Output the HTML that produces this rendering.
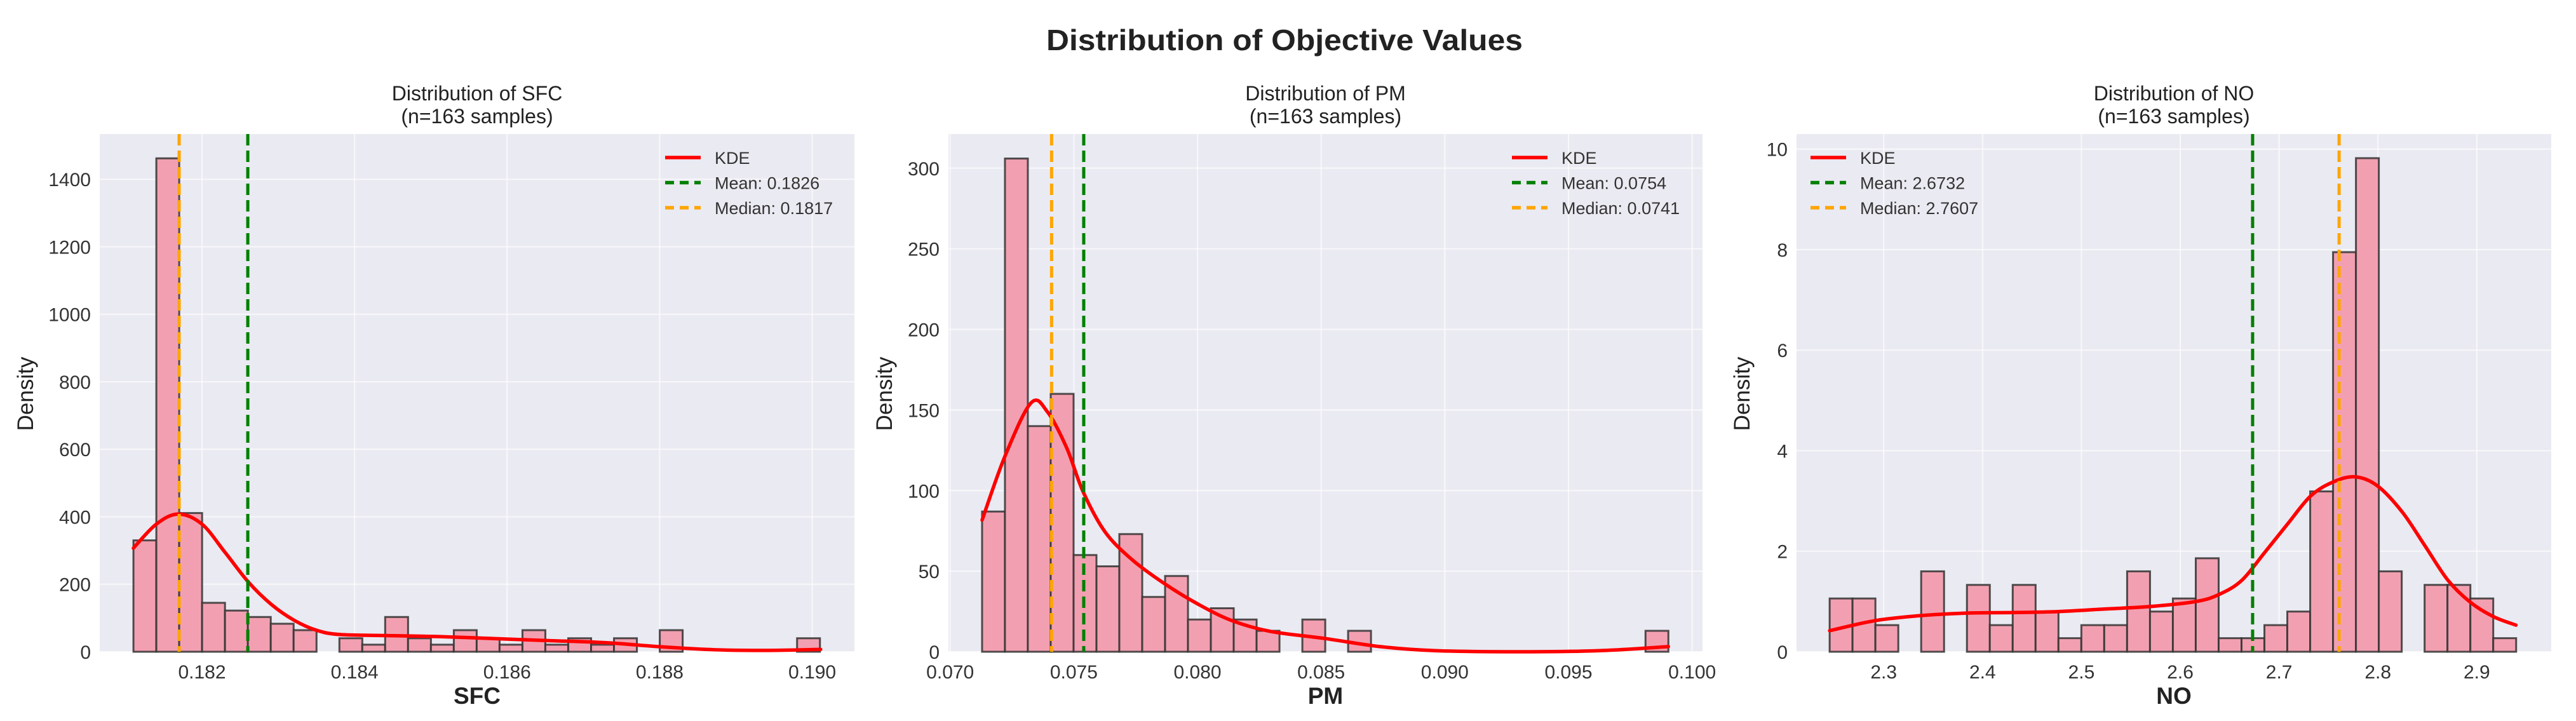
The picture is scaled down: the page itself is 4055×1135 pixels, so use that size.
<!DOCTYPE html>
<html><head><meta charset="utf-8"><style>
html,body{margin:0;padding:0;background:#fff;}
svg{display:block;font-family:"Liberation Sans",Arial,sans-serif;}
</style></head><body>
<svg id="chart" width="4055" height="1135" viewBox="0 0 4055 1135" xmlns="http://www.w3.org/2000/svg">
<text x="2022" y="79" text-anchor="middle" font-size="46" font-weight="bold" fill="#222" textLength="750" lengthAdjust="spacingAndGlyphs">Distribution of Objective Values</text>
</svg>
<script>
// ---- SFC panel data ----
const sfcBinStart = 0.181101;
const sfcBinWidth = 0.0003;
const sfcDensity = [330,1462,411,145,122,103,83,64,0,40,21,103,40,21,64,40,21,64,21,40,21,40,0,64,0,0,0,0,0,40];
const sfcKdeX = [0.18110,0.18140,0.18169,0.18200,0.18230,0.18261,0.18291,0.18321,0.18351,0.18381,0.18439,0.18511,0.18583,0.18655,0.18728,0.18800,0.18872,0.18944,0.19011];
const sfcKdeY = [307,378,408,378,295,206,140,93,63,51,48,45,39,33,27,15,6,4,7];
const sfcXTicks = [0.182,0.184,0.186,0.188,0.190];
const sfcXTickLabels = ["0.182","0.184","0.186","0.188","0.190"];
const sfcYTicks = [0,200,400,600,800,1000,1200,1400];
const sfcMean = 0.1826, sfcMedian = 0.1817;
// ---- PM panel data ----
const pmBinStart = 0.07129;
const pmBinWidth = 0.000925;
const pmDensity = [87,306,140,160,60,53,73,34,47,20,27,20,13,0,20,0,13,0,0,0,0,0,0,0,0,0,0,0,0,13];
const pmKdeX = [0.07129,0.07222,0.07327,0.07393,0.07471,0.07538,0.07627,0.07738,0.07871,0.08004,0.08138,0.08293,0.08516,0.08738,0.0896,0.09293,0.09627,0.09904];
const pmKdeY = [81.7,121.5,154.4,148.9,126.5,99.1,74.2,56.8,41.8,29.4,19.4,12.7,8.2,3.2,0.7,0,0.7,3.2];
const pmXTicks = [0.070,0.075,0.080,0.085,0.090,0.095,0.100];
const pmXTickLabels = ["0.070","0.075","0.080","0.085","0.090","0.095","0.100"];
const pmYTicks = [0,50,100,150,200,250,300];
const pmMean = 0.0754, pmMedian = 0.0741;
// ---- NO panel data ----
const noBinStart = 2.2453;
const noBinWidth = 0.02315;
const noDensity = [1.06,1.06,0.53,0,1.6,0,1.33,0.53,1.33,0.8,0.27,0.53,0.53,1.6,0.8,1.06,1.86,0.27,0.27,0.53,0.8,3.19,7.95,9.82,1.6,0,1.33,1.33,1.06,0.27];
const noKdeX = [2.2453,2.2916,2.3380,2.3843,2.4306,2.4769,2.5233,2.5696,2.6159,2.6393,2.6622,2.6856,2.7085,2.7320,2.7549,2.7772,2.7995,2.8246,2.8475,2.8709,2.8938,2.9167,2.9396];
const noKdeY = [0.42,0.62,0.72,0.77,0.78,0.80,0.85,0.90,1.00,1.14,1.42,1.98,2.54,3.10,3.38,3.48,3.30,2.78,2.11,1.42,0.98,0.70,0.53];
const noXTicks = [2.3,2.4,2.5,2.6,2.7,2.8,2.9];
const noXTickLabels = ["2.3","2.4","2.5","2.6","2.7","2.8","2.9"];
const noYTicks = [0,2,4,6,8,10];
const noMean = 2.6732, noMedian = 2.7607;

const NS = "http://www.w3.org/2000/svg";
const svg = document.getElementById("chart");
function mk(tag, attrs, parent){
  const e = document.createElementNS(NS, tag);
  for (const k in attrs) e.setAttribute(k, attrs[k]);
  (parent||svg).appendChild(e);
  return e;
}
function smoothPath(pts){
  let d = "M" + pts[0][0] + "," + pts[0][1];
  for (let i=0;i<pts.length-1;i++){
    const p0=pts[Math.max(0,i-1)], p1=pts[i], p2=pts[i+1], p3=pts[Math.min(pts.length-1,i+2)];
    const c1x=p1[0]+(p2[0]-p0[0])/6, c1y=p1[1]+(p2[1]-p0[1])/6;
    const c2x=p2[0]-(p3[0]-p1[0])/6, c2y=p2[1]-(p3[1]-p1[1])/6;
    d += " C"+c1x+","+c1y+" "+c2x+","+c2y+" "+p2[0]+","+p2[1];
  }
  return d;
}
function panel(cfg){
  const g = mk("g", {});
  
  
  const L=cfg.left, R=cfg.right, T=211, B=1026;
  const xs = v => L + (v-cfg.xmin)/(cfg.xmax-cfg.xmin)*(R-L);
  const ys = v => B - v/cfg.ymax*(B-T);
  const bg = mk("rect", {x:L,y:T,width:R-L,height:B-T,fill:"#eaeaf2"}, g);
  
  
  cfg.xticks.forEach((t,i)=>{
    const gl = mk("line",{x1:xs(t),x2:xs(t),y1:T,y2:B,stroke:"#fff","stroke-width":2,opacity:0.7},g);
    
    
    const tl = mk("text",{x:xs(t),y:B+42,"text-anchor":"middle","font-size":30,fill:"#333"},g);
    tl.textContent = cfg.xlabels[i];
    
    
  });
  cfg.yticks.forEach(t=>{
    const gl = mk("line",{x1:L,x2:R,y1:ys(t),y2:ys(t),stroke:"#fff","stroke-width":2,opacity:0.7},g);
    
    
    const tl = mk("text",{x:L-14,y:ys(t)+11,"text-anchor":"end","font-size":30,fill:"#333"},g);
    tl.textContent = String(t);
    
    
  });
  cfg.density.forEach((v,i)=>{
    if (v<=0) return;
    const x0 = xs(cfg.binStart + i*cfg.binWidth), x1 = xs(cfg.binStart + (i+1)*cfg.binWidth);
    const r = mk("rect",{x:x0,y:ys(v),width:x1-x0,height:B-ys(v),fill:"#f2a0b1",stroke:"#333","stroke-width":3,"stroke-opacity":0.85},g);
    
    
  });
  const pts = cfg.kdeX.map((x,i)=>[xs(x), ys(cfg.kdeY[i])]);
  const kde = mk("path",{d:smoothPath(pts),fill:"none",stroke:"#ff0000","stroke-width":5.5,"stroke-linecap":"round"},g);
  
  
  const mean = mk("line",{x1:xs(cfg.mean),x2:xs(cfg.mean),y1:T,y2:B,stroke:"#008000","stroke-width":5,"stroke-dasharray":"18,8"},g);
  
  
  const med = mk("line",{x1:xs(cfg.median),x2:xs(cfg.median),y1:T,y2:B,stroke:"#ffa500","stroke-width":5,"stroke-dasharray":"18,8"},g);
  
  
  const cx=(L+R)/2;
  const t1 = mk("text",{x:cx,y:158,"text-anchor":"middle","font-size":32,fill:"#222"},g);
  t1.textContent = "Distribution of " + cfg.name;
  
  
  const t2 = mk("text",{x:cx,y:194,"text-anchor":"middle","font-size":32,fill:"#222"},g);
  t2.textContent = "(n=163 samples)";
  
  
  const xl = mk("text",{x:cx,y:1108,"text-anchor":"middle","font-size":37,"font-weight":"bold",fill:"#222"},g);
  xl.textContent = cfg.name;
  
  
  const yl = mk("text",{x:0,y:0,"text-anchor":"middle","font-size":35,fill:"#222",transform:"translate("+(cfg.ylabX)+",620) rotate(-90)"},g);
  yl.textContent = "Density";
  
  
  const lg = mk("g",{},g);
  
  
  const items = [["KDE","#ff0000",null],["Mean: "+cfg.meanLabel,"#008000","14,9"],["Median: "+cfg.medianLabel,"#ffa500","14,9"]];
  items.forEach((it,i)=>{
    const y = 248 + i*39.5;
    const ln = mk("line",{x1:cfg.legX,x2:cfg.legX+56,y1:y,y2:y,stroke:it[1],"stroke-width":5.5},lg);
    if (it[2]) ln.setAttribute("stroke-dasharray", it[2]);
    
    
    const tx = mk("text",{x:cfg.legX+78,y:y+10,"font-size":27,fill:"#333"},lg);
    tx.textContent = it[0];
    
    
  });
}
panel({name:"SFC",left:157,right:1345,xmin:0.180659,xmax:0.190553,ymax:1534,binStart:sfcBinStart,binWidth:sfcBinWidth,density:sfcDensity,kdeX:sfcKdeX,kdeY:sfcKdeY,xticks:sfcXTicks,xlabels:sfcXTickLabels,yticks:sfcYTicks,mean:sfcMean,median:sfcMedian,meanLabel:"0.1826",medianLabel:"0.1817",ylabX:52,legX:1047});
panel({name:"PM",left:1493,right:2680,xmin:0.06993,xmax:0.10042,ymax:321.2,binStart:pmBinStart,binWidth:pmBinWidth,density:pmDensity,kdeX:pmKdeX,kdeY:pmKdeY,xticks:pmXTicks,xlabels:pmXTickLabels,yticks:pmYTicks,mean:pmMean,median:pmMedian,meanLabel:"0.0754",medianLabel:"0.0741",ylabX:1404,legX:2380});
panel({name:"NO",left:2828,right:4016,xmin:2.2118,xmax:2.9753,ymax:10.30,binStart:noBinStart,binWidth:noBinWidth,density:noDensity,kdeX:noKdeX,kdeY:noKdeY,xticks:noXTicks,xlabels:noXTickLabels,yticks:noYTicks,mean:noMean,median:noMedian,meanLabel:"2.6732",medianLabel:"2.7607",ylabX:2754,legX:2850});
</script>
</body></html>
